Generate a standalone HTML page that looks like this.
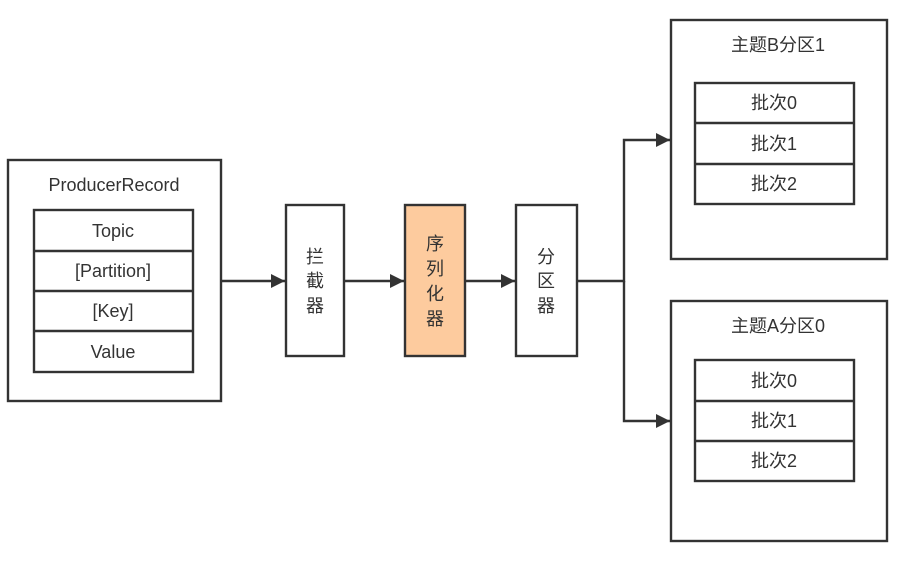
<!DOCTYPE html>
<html><head><meta charset="utf-8"><style>
html,body{margin:0;padding:0;background:#fff;}
svg text{font-family:"Liberation Sans","Noto Sans CJK SC",sans-serif;fill:#333;font-size:18px;text-anchor:middle;dominant-baseline:central;}
</style></head><body>
<svg width="903" height="556" viewBox="0 0 903 556" xmlns="http://www.w3.org/2000/svg">
<defs><marker id="a" viewBox="0 0 10 10" refX="10" refY="5" markerWidth="20" markerHeight="14" markerUnits="userSpaceOnUse" orient="auto"><path d="M0,0L10,5L0,10z" fill="#333"/></marker></defs>
<g fill="none" stroke="#333" stroke-width="2.4">
<rect x="8" y="160" width="213" height="241" fill="#fff"/>
<rect x="34" y="210" width="159" height="162"/>
<line x1="34" y1="251" x2="193" y2="251"/><line x1="34" y1="291" x2="193" y2="291"/><line x1="34" y1="331" x2="193" y2="331"/>
<rect x="286" y="205" width="58" height="151"/>
<rect x="405" y="205" width="60" height="151" fill="#FDCB9E"/>
<rect x="516" y="205" width="61" height="151"/>
<rect x="671" y="20" width="216" height="239"/>
<rect x="695" y="83" width="159" height="121"/>
<line x1="695" y1="123" x2="854" y2="123"/><line x1="695" y1="164" x2="854" y2="164"/>
<rect x="671" y="301" width="216" height="240"/>
<rect x="695" y="360" width="159" height="121"/>
<line x1="695" y1="401" x2="854" y2="401"/><line x1="695" y1="441" x2="854" y2="441"/>
<line x1="221" y1="281" x2="285" y2="281" marker-end="url(#a)"/>
<line x1="344" y1="281" x2="404" y2="281" marker-end="url(#a)"/>
<line x1="465" y1="281" x2="515" y2="281" marker-end="url(#a)"/>
<path d="M577,281H624V140H670" marker-end="url(#a)"/>
<path d="M624,281V421H670" marker-end="url(#a)"/>
</g>
<text x="114" y="185">ProducerRecord</text>
<text x="113" y="231">Topic</text>
<text x="113" y="271">[Partition]</text>
<text x="113" y="311">[Key]</text>
<text x="113" y="352">Value</text>
<text x="315" y="257">拦</text><text x="315" y="281">截</text><text x="315" y="306">器</text>
<text x="435" y="244">序</text><text x="435" y="269">列</text><text x="435" y="294">化</text><text x="435" y="319">器</text>
<text x="546" y="257">分</text><text x="546" y="281">区</text><text x="546" y="306">器</text>
<text x="778" y="45">主题B分区1</text>
<text x="774" y="103">批次0</text><text x="774" y="144">批次1</text><text x="774" y="184">批次2</text>
<text x="778" y="326">主题A分区0</text>
<text x="774" y="381">批次0</text><text x="774" y="421">批次1</text><text x="774" y="461">批次2</text>
</svg>
</body></html>
